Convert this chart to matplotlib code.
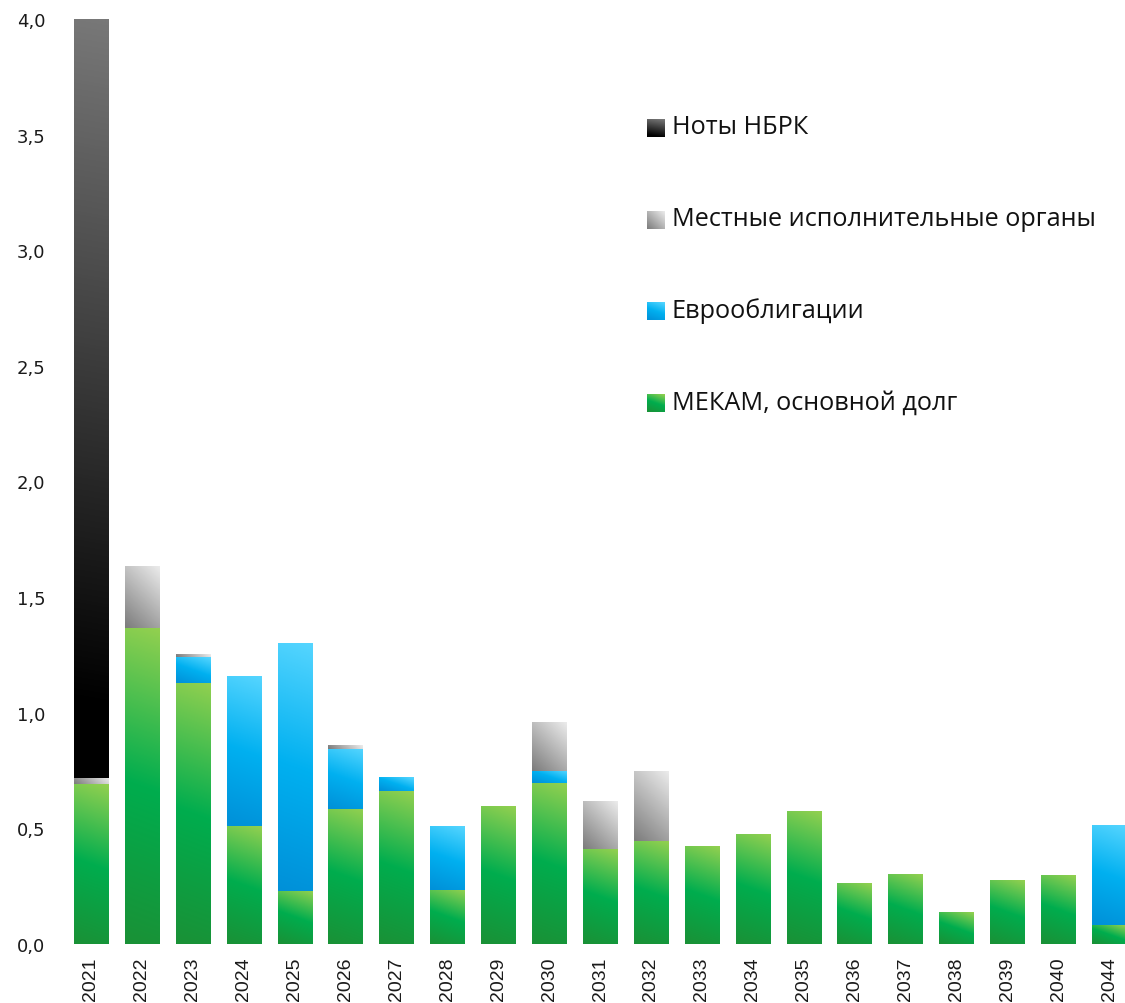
import numpy as np
import matplotlib
matplotlib.use("Agg")
import matplotlib.pyplot as plt
from matplotlib.colors import LinearSegmentedColormap
from matplotlib.ticker import FuncFormatter

years = ["2021", "2022", "2023", "2024", "2025", "2026", "2027", "2028", "2029", "2030",
         "2031", "2032", "2033", "2034", "2035", "2036", "2037", "2038", "2039", "2040", "2044"]

# МЕКАМ, основной долг
mekam = [0.69, 1.365, 1.13, 0.51, 0.23, 0.585, 0.66, 0.235, 0.595, 0.695,
         0.41, 0.445, 0.42, 0.475, 0.575, 0.26, 0.30, 0.135, 0.275, 0.295, 0.08]
# Еврооблигации
euro = [0.0, 0.0, 0.11, 0.645, 1.07, 0.26, 0.06, 0.275, 0.0, 0.055,
        0.0, 0.0, 0.0, 0.0, 0.0, 0.0, 0.0, 0.0, 0.0, 0.0, 0.43]
# Местные исполнительные органы
mio = [0.03, 0.265, 0.01, 0.0, 0.0, 0.013, 0.0, 0.0, 0.0, 0.21,
       0.205, 0.30, 0.0, 0.0, 0.0, 0.0, 0.0, 0.0, 0.0, 0.0, 0.0]
# Ноты НБРК
notes = [3.28, 0.0, 0.0, 0.0, 0.0, 0.0, 0.0, 0.0, 0.0, 0.0,
         0.0, 0.0, 0.0, 0.0, 0.0, 0.0, 0.0, 0.0, 0.0, 0.0, 0.0]

labels = ["Ноты НБРК", "Местные исполнительные органы", "Еврооблигации", "МЕКАМ, основной долг"]

# gradients: (stops, colors, angle in degrees)
cm_green = LinearSegmentedColormap.from_list("g", [(0, "#1a9136"), (0.5, "#00ad4e"), (1, "#92d050")])
cm_blue = LinearSegmentedColormap.from_list("b", [(0, "#0090d8"), (0.5, "#00b0f0"), (1, "#55d5ff")])
cm_gray = LinearSegmentedColormap.from_list("m", [(0, "#7c7c7c"), (1, "#ebebeb")])
cm_black = LinearSegmentedColormap.from_list("k", [(0, "#000000"), (0.1, "#000000"), (1, "#787878")])

W, H, DPI = 1125, 1004, 100
fig = plt.figure(figsize=(W / DPI, H / DPI), dpi=DPI)
ax = fig.add_axes([65.5 / W, 59 / H, 1069 / W, 925 / H])
ax.set_xlim(-0.5, 20.5)
ax.set_ylim(0, 4.0)

x = np.arange(len(years))
px_x = 1069 / 21.0
px_y = 925 / 4.0


def grad_img(target, x0, y0, w, h, wpx, hpx, cmap, angle, **kw):
    a = np.deg2rad(angle)
    c, s = np.cos(a), np.sin(a)
    nx, ny = 40, max(2, int(hpx) + 1)
    X, Y = np.meshgrid(np.linspace(0, wpx, nx), np.linspace(0, hpx, ny))
    t = (X * c + Y * s) / (wpx * c + hpx * s)
    target.imshow(t, cmap=cmap, vmin=0, vmax=1, extent=[x0, x0 + w, y0, y0 + h],
                  origin="lower", aspect="auto", interpolation="bilinear", **kw)


series = [(mekam, cm_green, 70), (euro, cm_blue, 70), (mio, cm_gray, 45), (notes, cm_black, 80)]
bottom = np.zeros(len(years))
for vals, cmap, ang in series:
    bars = ax.bar(x, vals, 0.67, bottom=bottom, facecolor="none", linewidth=0)
    for p in bars:
        if p.get_height() <= 0:
            continue
        grad_img(ax, p.get_x(), p.get_y(), p.get_width(), p.get_height(),
                 p.get_width() * px_x, p.get_height() * px_y, cmap, ang, zorder=2)
    bottom += np.array(vals)

ax.set_xlim(-0.5, 20.5)
ax.set_ylim(0, 4.0)
ax.set_xticks(x)
ax.set_xticklabels(years, rotation=90, fontsize=14, family=["Liberation Sans", "DejaVu Sans"])
ax.set_yticks(np.arange(0, 4.01, 0.5))
ax.yaxis.set_major_formatter(FuncFormatter(lambda v, p: f"{v:.1f}".replace(".", ",")))
for lab in ax.get_yticklabels():
    lab.set_fontsize(13)
ax.tick_params(axis="x", length=0, pad=9, colors="#1a1a1a")
ax.tick_params(axis="y", length=0, pad=14.5, colors="#1a1a1a")
for sp in ax.spines.values():
    sp.set_visible(False)

# legend, drawn by hand with gradient squares
leg_y = [129, 221, 312, 404]
leg_maps = [(cm_black, 80), (cm_gray, 45), (cm_blue, 70), (cm_green, 70)]
for yc, lab, (cmap, ang) in zip(leg_y, labels, leg_maps):
    sq = fig.add_axes([647 / W, (H - yc - 9) / H, 18 / W, 18 / H])
    grad_img(sq, 0, 0, 1, 1, 18, 18, cmap, ang)
    sq.set_xlim(0, 1)
    sq.set_ylim(0, 1)
    sq.axis("off")
    fig.text(672 / W, (H - yc + 1) / H, lab, fontsize=18.2, va="center", ha="left",
             family=["Open Sans", "DejaVu Sans"], color="#111111")

fig.savefig("out.png", dpi=DPI)
